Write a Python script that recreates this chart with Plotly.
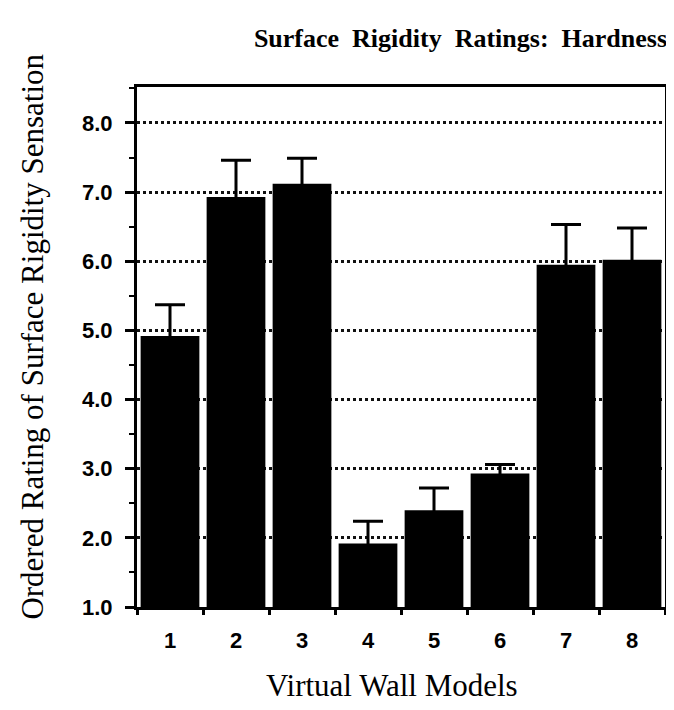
import plotly.graph_objects as go

models = ["1", "2", "3", "4", "5", "6", "7", "8"]
ratings = [4.92, 6.93, 7.12, 1.92, 2.40, 2.93, 5.95, 6.02]
err_up = [0.45, 0.53, 0.37, 0.32, 0.32, 0.13, 0.58, 0.46]
err_down = [0, 0, 0, 0, 0, 0, 0, 0]
y_ticks = [1, 2, 3, 4, 5, 6, 7, 8]
y_labels = ["1.0", "2.0", "3.0", "4.0", "5.0", "6.0", "7.0", "8.0"]

# lower cap tucked just inside the black bar so the bar top stays flat
hidden_cap = 0.04

fig = go.Figure()
fig.add_trace(go.Bar(
    x=models, y=[r - 1 for r in ratings], base=1,
    marker=dict(color="black", line=dict(width=0)),
    error_y=dict(type="data", symmetric=False,
                 array=err_up,
                 arrayminus=[d + hidden_cap for d in err_down],
                 color="black", thickness=3, width=15),
    hoverinfo="skip",
))

# the page body adds an 8px offset, so the figure is 8px smaller than the window
fig.update_layout(
    width=666, height=702,
    paper_bgcolor="white", plot_bgcolor="white",
    margin=dict(l=129, r=9, t=79, b=103),
    bargap=0.11,
    showlegend=False,
    title=dict(text="<b>Surface  Rigidity  Ratings:  Hardness</b>",
               font=dict(family="Liberation Serif", size=26, color="black"),
               x=0.9895, xanchor="right", y=0.957, yanchor="middle"),
    annotations=[
        dict(text="Virtual Wall Models", xref="paper", yref="paper",
             x=0.483, y=0, yshift=-78, xanchor="center", yanchor="middle",
             showarrow=False, font=dict(family="Liberation Serif", size=31, color="black")),
        dict(text="Ordered Rating of Surface Rigidity Sensation", xref="paper", yref="paper",
             x=0, xshift=-104, y=0.52, xanchor="center", yanchor="middle", textangle=-90,
             showarrow=False, font=dict(family="Liberation Serif", size=31, color="black")),
    ],
)
fig.update_xaxes(
    type="category", tickson="boundaries", ticks="outside", ticklen=5, tickwidth=3,
    tickcolor="black", showline=True, linewidth=3, linecolor="black", mirror=True,
    showgrid=False, automargin=False, ticklabelstandoff=12,
    tickfont=dict(family="Liberation Sans", size=22, color="black", weight="bold"),
)
fig.update_yaxes(
    range=[1, 8.52], tickvals=y_ticks, ticktext=y_labels,
    ticks="outside", ticklen=9, tickwidth=3, tickcolor="black",
    minor=dict(dtick=0.5, ticks="outside", ticklen=5, tickwidth=2, tickcolor="black", showgrid=False),
    showline=True, linewidth=3, linecolor="black", mirror=True,
    showgrid=True, gridcolor="#111111", gridwidth=2.5, griddash="dot",
    zeroline=False, automargin=False, ticklabelstandoff=8,
    tickfont=dict(family="Liberation Sans", size=22, color="black", weight="bold"),
)

fig.write_html("out.html")
